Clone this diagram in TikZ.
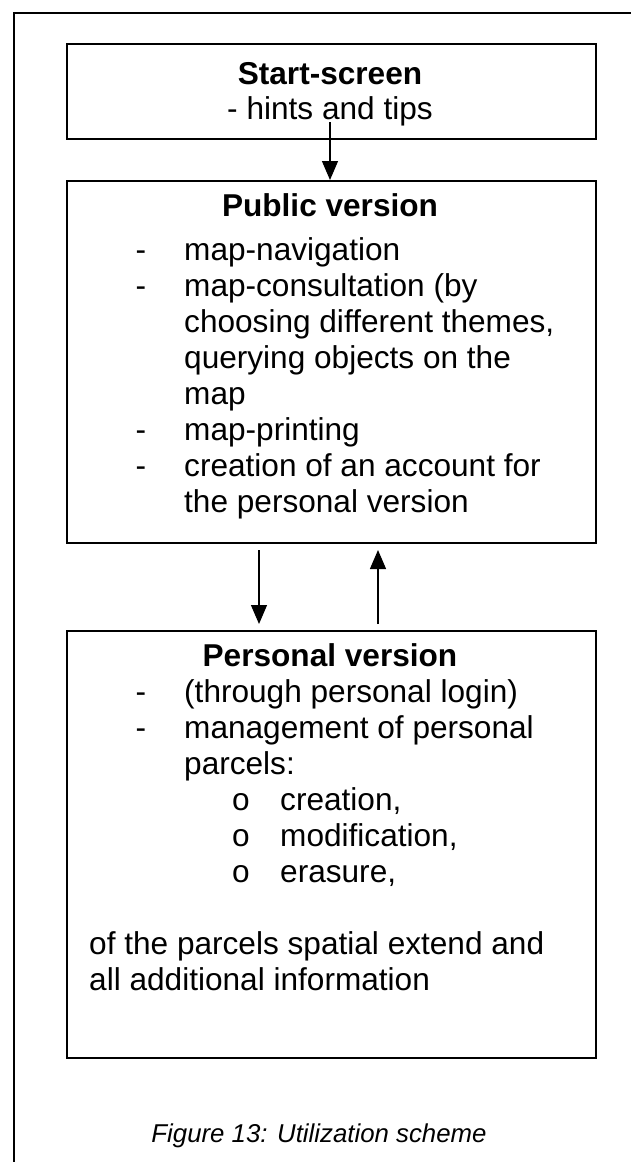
\documentclass[tikz,border=0pt]{standalone}
\usepackage{fontspec}
\setmainfont{Liberation Sans}
\usetikzlibrary{arrows.meta}
\begin{document}
\begin{tikzpicture}[x=1pt,y=-1pt,
  box/.style={draw=black,line width=1.5pt,anchor=north west,inner sep=0pt},
  txt/.style={inner sep=0pt,anchor=base west,font=\fontsize{31.6pt}{36pt}\selectfont},
  ctxt/.style={inner sep=0pt,anchor=base,font=\fontsize{31.6pt}{36pt}\selectfont},
  ttl/.style={inner sep=0pt,anchor=base,font=\fontsize{31.6pt}{36pt}\selectfont\bfseries},
  arr/.style={line width=1.3pt,-{Triangle[length=19pt,width=16pt]}},
  frame/.style={line width=2.7pt}]
\useasboundingbox (0,0) rectangle (631,1162);
\clip (0,0) rectangle (631,1162);
% outer frame
\coordinate (fr1) at (640,13);
\coordinate (fr2) at (14,13);
\coordinate (fr3) at (14,1170);
\draw[frame] (fr1) -- (fr2) -- (fr3);
% boxes
\node (start) [box,minimum width=529pt,minimum height=95pt] at (66,43) {};
\node (public) [box,minimum width=529pt,minimum height=362pt] at (66,180) {};
\node (personal) [box,minimum width=529pt,minimum height=427pt] at (66,630) {};
% start text
\node (st1) [ttl] at (330,84) {Start-screen};
\node (st2) [ctxt] at (330,119) {- hints and tips};
% public text
\node (pt0) [ttl] at (330,216) {Public version};
\node (pd1) [ctxt] at (141,260) {-};
\node (pt1) [txt] at (184,260) {map-navigation};
\node (pd2) [ctxt] at (141,296) {-};
\node (pt2) [txt] at (184,296) {map-consultation (by};
\node (pt3) [txt] at (184,332) {choosing different themes,};
\node (pt4) [txt] at (184,368) {querying objects on the};
\node (pt5) [txt] at (184,404) {map};
\node (pd6) [ctxt] at (141,440) {-};
\node (pt6) [txt] at (184,440) {map-printing};
\node (pd7) [ctxt] at (141,476) {-};
\node (pt7) [txt] at (184,476) {creation of an account for};
\node (pt8) [txt] at (184,512) {the personal version};
% personal text
\node (qt0) [ttl] at (330,666) {Personal version};
\node (qd1) [ctxt] at (141,702) {-};
\node (qt1) [txt] at (184,702) {(through personal login)};
\node (qd2) [ctxt] at (141,738) {-};
\node (qt2) [txt] at (184,738) {management of personal};
\node (qt3) [txt] at (184,774) {parcels:};
\node (qo1) [ctxt] at (241,810) {o};
\node (qt4) [txt] at (280,810) {creation,};
\node (qo2) [ctxt] at (241,846) {o};
\node (qt5) [txt] at (280,846) {modification,};
\node (qo3) [ctxt] at (241,882) {o};
\node (qt6) [txt] at (280,882) {erasure,};
\node (qt7) [txt] at (89,954) {of the parcels spatial extend and};
\node (qt8) [txt] at (89,990) {all additional information};
% caption
\node (cap) [inner sep=0pt,anchor=base,font=\fontsize{25.8pt}{30pt}\selectfont\itshape] at (319,1142) {Figure 13: Utilization scheme};
% connectors
\coordinate (a1) at (330,122);
\draw[arr] (a1) -- (a1 |- public.north);
\coordinate (d1) at (259,550);
\coordinate (d2) at (259,624);
\draw[arr] (d1) -- (d2);
\coordinate (u1) at (378,624);
\coordinate (u2) at (378,550);
\draw[arr] (u1) -- (u2);
\end{tikzpicture}
\end{document}
